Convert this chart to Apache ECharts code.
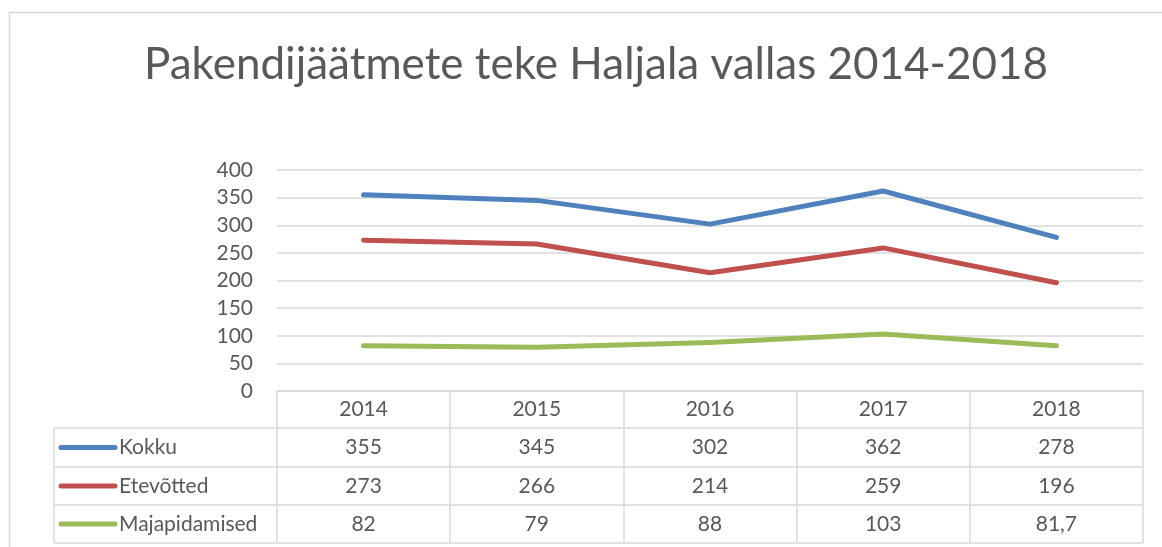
<!DOCTYPE html>
<html>
<head>
<meta charset="utf-8">
<script src="https://cdn.jsdelivr.net/npm/echarts@6/dist/echarts.min.js"></script>
<style>
  html, body { margin: 0; padding: 0; background: #fff; }
  #main { width: 1162px; height: 547px; }
</style>
</head>
<body>
<div id="main"></div>
<script>
// data
var years = ['2014', '2015', '2016', '2017', '2018'];
var seriesNames = ['Kokku', 'Etevõtted', 'Majapidamised'];
var kokku = [355, 345, 302, 362, 278];
var etevotted = [273, 266, 214, 259, 196];
var majapidamised = [82, 79, 88, 103, 81.7];
var yTicks = { min: 0, max: 400, interval: 50 };

var colors = ['#4F81BD', '#C0504D', '#9BBB59'];
var textColor = '#595959';
var lineColor = '#d9d9d9';
var font = 'Lato, "Open Sans", sans-serif';

// table layout (below the plot)
var gridLeft = 277, gridRight = 1143, gridTop = 170, gridBottom = 391;
var tableLeft = 54;
var rowLines = [428, 467, 505, 543];
var rowCenters = [447.5, 486, 524];
var headerCenter = 409.5;

function fmt(v) { return String(v).replace('.', ','); }

var allValues = [kokku, etevotted, majapidamised];

var chartDom = document.getElementById('main');
var myChart = echarts.init(chartDom);

// one hidden category axis per table row, so the numbers sit under their year
var xAxes = [{
  type: 'category',
  data: years,
  boundaryGap: true,
  axisLine: { lineStyle: { color: lineColor, width: 1.5 } },
  axisTick: { show: true, length: rowLines[3] - gridBottom, lineStyle: { color: lineColor, width: 1.5 } },
  axisLabel: { color: textColor, fontSize: 21, fontFamily: font, verticalAlign: 'middle', margin: headerCenter - gridBottom }
}];
allValues.forEach(function (vals, i) {
  xAxes.push({
    type: 'category',
    data: vals.map(fmt),
    position: 'bottom',
    axisLine: { show: false },
    axisTick: { show: false },
    axisLabel: { color: textColor, fontSize: 21, fontFamily: font, verticalAlign: 'middle', margin: rowCenters[i] - gridBottom, interval: 0 }
  });
});

var graphics = [
  // outer chart border
  { type: 'rect', shape: { x: 9.5, y: 12.5, width: 1200, height: 600 }, style: { fill: 'none', stroke: lineColor, lineWidth: 1.5 }, silent: true },
  // left edge of legend column
  { type: 'line', shape: { x1: tableLeft, y1: rowLines[0], x2: tableLeft, y2: rowLines[3] }, style: { stroke: lineColor, lineWidth: 1.5 } }
];
rowLines.forEach(function (y) {
  graphics.push({ type: 'line', shape: { x1: tableLeft, y1: y, x2: gridRight, y2: y }, style: { stroke: lineColor, lineWidth: 1.5 } });
});
seriesNames.forEach(function (name, i) {
  graphics.push({ type: 'line', shape: { x1: 61, y1: rowCenters[i], x2: 115, y2: rowCenters[i] }, style: { stroke: colors[i], lineWidth: 5, lineCap: 'round' } });
  graphics.push({ type: 'text', x: 119, y: rowCenters[i], style: { text: name, fill: textColor, font: '21px ' + font, textVerticalAlign: 'middle', textAlign: 'left' } });
});

var option = {
  animation: false,
  title: {
    text: 'Pakendijäätmete teke Haljala vallas 2014-2018',
    left: 591,
    textAlign: 'center',
    top: 38,
    textStyle: { color: textColor, fontSize: 44, fontWeight: 'normal', fontFamily: font }
  },
  grid: { left: gridLeft, right: 1162 - gridRight, top: gridTop, bottom: 547 - gridBottom, containLabel: false },
  xAxis: xAxes,
  yAxis: {
    type: 'value',
    min: yTicks.min,
    max: yTicks.max,
    interval: yTicks.interval,
    axisLine: { show: false },
    axisTick: { show: false },
    axisLabel: { color: textColor, fontSize: 21, fontFamily: font, margin: 24 },
    splitLine: { lineStyle: { color: lineColor, width: 1.5 } }
  },
  series: allValues.map(function (vals, i) {
    return {
      name: seriesNames[i],
      type: 'line',
      data: vals,
      showSymbol: false,
      lineStyle: { color: colors[i], width: 5, cap: 'round', join: 'round' },
      itemStyle: { color: colors[i] }
    };
  }),
  graphic: graphics
};

myChart.setOption(option);
</script>
</body>
</html>
